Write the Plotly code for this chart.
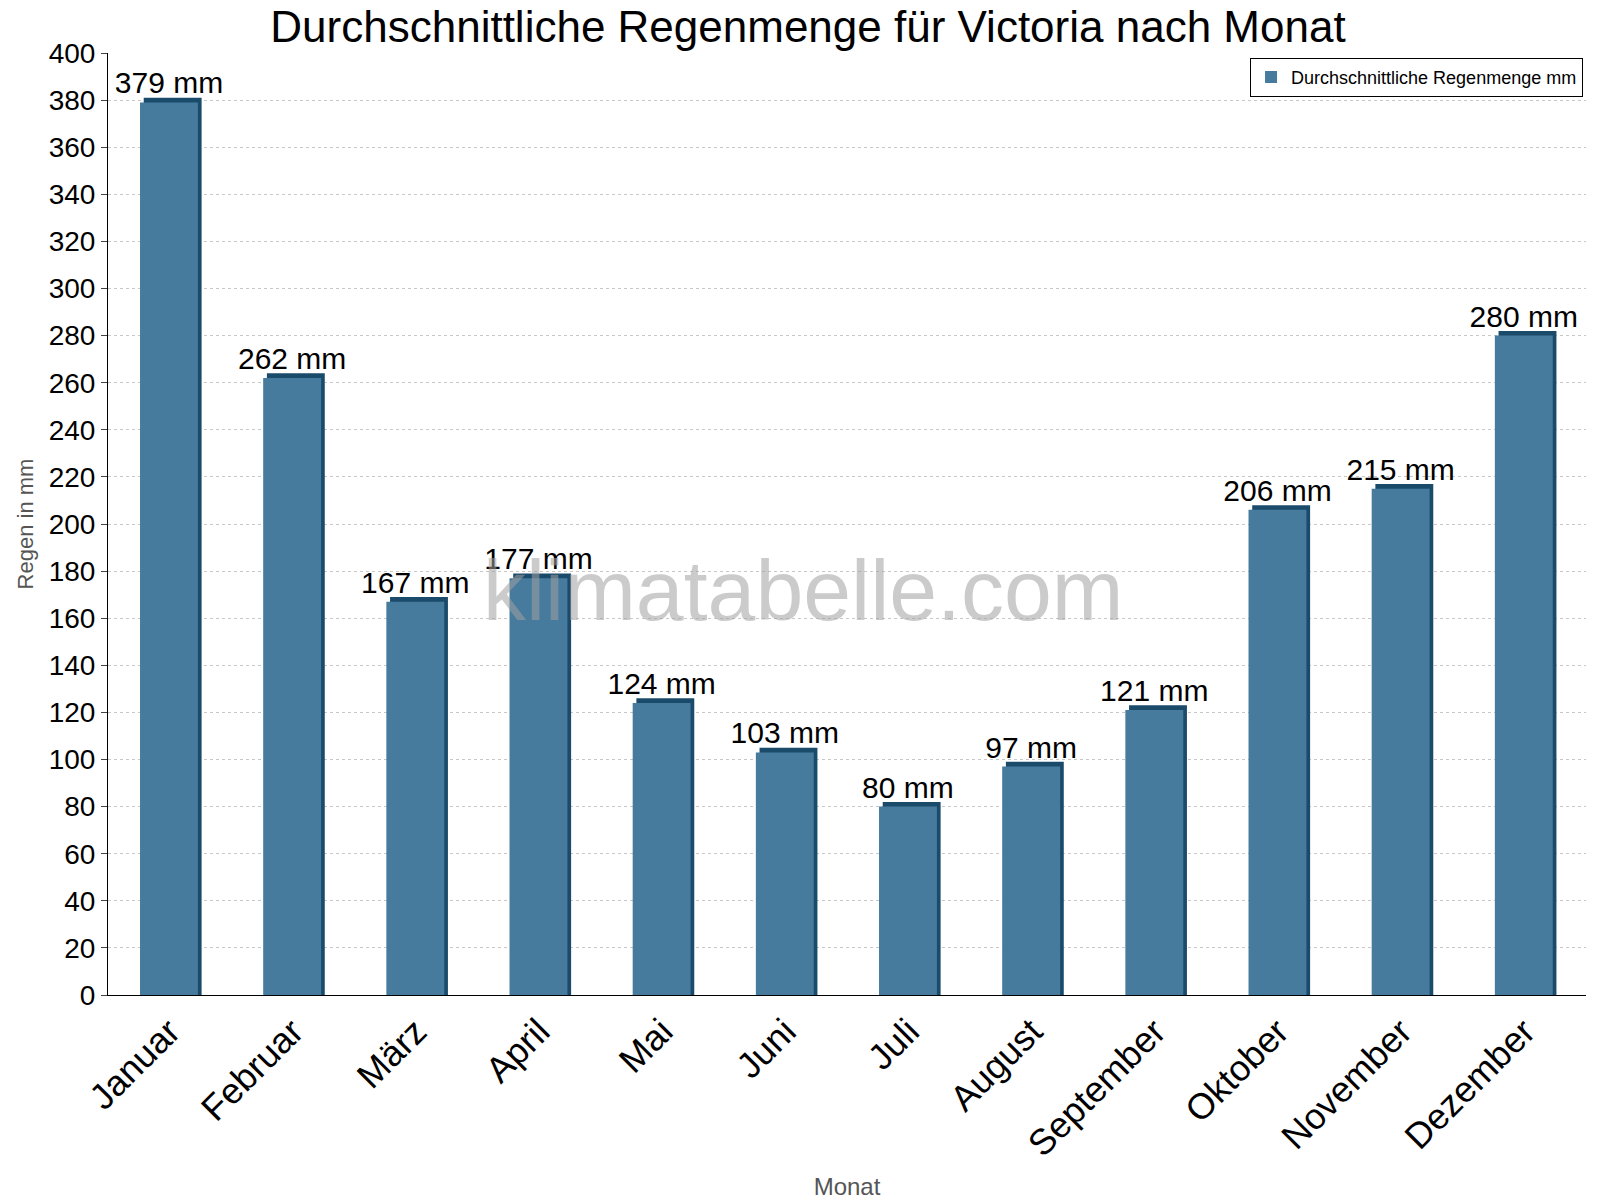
import plotly.graph_objects as go

months = ["Januar","Februar","März","April","Mai","Juni","Juli","August","September","Oktober","November","Dezember"]
rain = [379,262,167,177,124,103,80,97,121,206,215,280]
labels = [f"{v} mm" for v in rain]

fig = go.Figure()
fig.add_bar(x=months, y=[v + 2 for v in rain], width=0.47, offset=-0.21,
            marker=dict(color="#1B4B6B", line=dict(width=0)), showlegend=False, hoverinfo="skip")
fig.add_bar(x=months, y=rain, width=0.47, offset=-0.24, name="Durchschnittliche Regenmenge mm",
            marker=dict(color="#467B9E", line=dict(width=0)),
            text=labels, textposition="outside", cliponaxis=False, constraintext="none",
            textfont=dict(size=30, color="black", family="Liberation Sans"))
fig.update_layout(
    width=1600, height=1200, barmode="overlay", plot_bgcolor="white", paper_bgcolor="white",
    margin=dict(l=100, r=22, t=45, b=200),
    font=dict(family="Liberation Sans"),
    title=dict(text="Durchschnittliche Regenmenge für Victoria nach Monat", x=0.5, y=0.997,
               xanchor="center", yanchor="top", font=dict(size=44, color="black")),
    legend=dict(x=0.998, y=0.995, xanchor="right", yanchor="top", bordercolor="black", borderwidth=1,
                bgcolor="white", font=dict(size=18, color="black")),
    annotations=[dict(text="klimatabelle.com", x=0.47, y=0.43, xref="paper", yref="paper",
                      showarrow=False, font=dict(size=86, color="rgba(160,160,160,0.55)"))],
)
fig.update_yaxes(range=[0, 400], dtick=20, showgrid=True, gridcolor="#c8c8c8", griddash="dot",
                 showline=True, linecolor="black", ticks="outside", ticklen=6,
                 tickfont=dict(size=28, color="black"),
                 title=dict(text="Regen in mm", font=dict(size=22, color="#555"), standoff=8))
fig.update_xaxes(showline=True, linecolor="black", mirror=False, tickangle=-45,
                 tickfont=dict(size=36, color="black"),
                 title=dict(text="Monat", font=dict(size=24, color="#555")))
fig.write_html("out.html")
